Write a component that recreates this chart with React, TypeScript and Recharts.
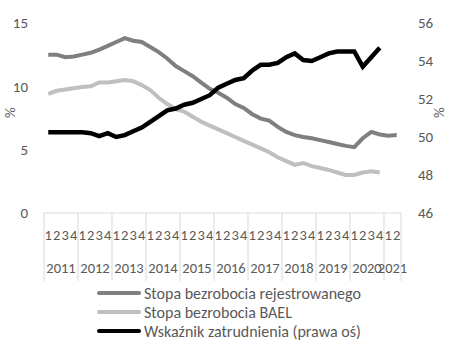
import { LineChart, Line, XAxis, YAxis } from 'recharts';

const years = ['2011', '2012', '2013', '2014', '2015', '2016', '2017', '2018', '2019', '2020', '2021'];
const quarters = ['1', '2', '3', '4'];
const periods = years.flatMap(y => quarters.map(q => `${y} ${q}`)).slice(0, 42);

// stopa bezrobocia rejestrowanego (%)
const registered = [
  12.5, 12.5, 12.3, 12.35, 12.5, 12.65, 12.9, 13.2, 13.5, 13.8, 13.6, 13.5,
  13.1, 12.7, 12.2, 11.6, 11.2, 10.8, 10.3, 9.8, 9.5, 9.1, 8.6, 8.3,
  7.8, 7.45, 7.3, 6.8, 6.4, 6.15, 6.0, 5.9, 5.75, 5.6, 5.45, 5.3,
  5.2, 5.9, 6.4, 6.2, 6.1, 6.15,
];
// stopa bezrobocia BAEL (%)
const bael = [
  9.4, 9.65, 9.75, 9.85, 9.95, 10.0, 10.3, 10.3, 10.4, 10.5, 10.4, 10.1,
  9.7, 9.1, 8.6, 8.2, 8.0, 7.6, 7.2, 6.9, 6.6, 6.3, 6.0, 5.7,
  5.4, 5.1, 4.8, 4.4, 4.1, 3.8, 3.95, 3.7, 3.55, 3.4, 3.2, 3.0,
  3.0, 3.2, 3.3, 3.2,
];
// wskaźnik zatrudnienia (%), prawa oś
const employment = [
  50.25, 50.25, 50.25, 50.25, 50.25, 50.2, 50.05, 50.2, 50.0, 50.1, 50.3, 50.5,
  50.8, 51.1, 51.4, 51.5, 51.7, 51.8, 52.0, 52.2, 52.6, 52.8, 53.0, 53.1,
  53.5, 53.8, 53.8, 53.9, 54.2, 54.4, 54.05, 54.0, 54.2, 54.4, 54.5, 54.5,
  54.5, 53.7, 54.2, 54.7,
];

const leftTicks = [0, 5, 10, 15];
const rightTicks = [46, 48, 50, 52, 54, 56];

const data = periods.map((p, i) => ({
  period: p,
  registered: registered[i] ?? null,
  bael: bael[i] ?? null,
  employment: employment[i] ?? null,
}));

const FONT = 'Carlito, Calibri, Lato, sans-serif';
const TEXT = '#595959';
const GRID = '#d9d9d9';

const series = [
  { key: 'registered', name: 'Stopa bezrobocia rejestrowanego', color: '#7f7f7f', width: 4, axis: 'left' },
  { key: 'bael', name: 'Stopa bezrobocia BAEL', color: '#bfbfbf', width: 4, axis: 'left' },
  { key: 'employment', name: 'Wskaźnik zatrudnienia (prawa oś)', color: '#000000', width: 4.5, axis: 'right' },
];

function PeriodTick(props: any) {
  const { x, y, payload, index } = props;
  const half = payload.offset || 4.25;
  const [yr, q] = String(payload.value).split(' ');
  const inYear = periods.filter(p => p.startsWith(yr)).length;
  const isLast = index === periods.length - 1;
  return (
    <g>
      <text x={x} y={y + 27} textAnchor="middle" fill={TEXT} fontSize={14.5} fontFamily={FONT}>{q}</text>
      {q === '1' && (
        <>
          <line x1={x - half} x2={x - half} y1={y} y2={y + 68} stroke={GRID} />
          <text x={x - half + inYear * half} y={y + 60} textAnchor="middle" fill={TEXT} fontSize={14.5} fontFamily={FONT}>{yr}</text>
        </>
      )}
      {isLast && <line x1={x + half} x2={x + half} y1={y} y2={y + 68} stroke={GRID} />}
    </g>
  );
}

export default function App() {
  const tickStyle = { fill: TEXT, fontSize: 15, fontFamily: FONT };
  return (
    <div style={{ position: 'absolute', left: 0, top: 0, width: 449, height: 354, background: '#fff', fontFamily: FONT }}>
      <LineChart width={449} height={283} data={data} margin={{ top: 23, right: 0, bottom: 0, left: 0 }}>
        <XAxis
          dataKey="period"
          scale="band"
          interval={0}
          height={70}
          tickLine={false}
          tickSize={0}
          tickMargin={0}
          axisLine={{ stroke: GRID }}
          tick={<PeriodTick />}
        />
        <YAxis
          yAxisId="left"
          domain={[0, 15]}
          ticks={leftTicks}
          width={44}
          axisLine={false}
          tickLine={false}
          tickMargin={10}
          tick={tickStyle}
          label={{ value: '%', angle: -90, position: 'insideLeft', offset: 10, fill: TEXT, fontSize: 15, fontFamily: FONT }}
        />
        <YAxis
          yAxisId="right"
          orientation="right"
          domain={[46, 56]}
          ticks={rightTicks}
          width={48}
          axisLine={false}
          tickLine={false}
          tickMargin={11}
          tick={tickStyle}
          label={{ value: '%', angle: 90, position: 'insideRight', offset: 10, fill: TEXT, fontSize: 15, fontFamily: FONT }}
        />
        {series.map(s => (
          <Line
            key={s.key}
            yAxisId={s.axis}
            dataKey={s.key}
            name={s.name}
            type="linear"
            stroke={s.color}
            strokeWidth={s.width}
            dot={false}
            connectNulls={false}
            isAnimationActive={false}
          />
        ))}
      </LineChart>
      <div style={{ position: 'absolute', left: 97, top: 283.5 }}>
        {series.map(s => (
          <div key={s.key} style={{ display: 'flex', alignItems: 'center', height: 19 }}>
            <div style={{ width: 44, height: s.width, background: s.color, borderRadius: 2 }} />
            <span style={{ marginLeft: 3, color: TEXT, fontSize: 16, whiteSpace: 'nowrap' }}>{s.name}</span>
          </div>
        ))}
      </div>
    </div>
  );
}
